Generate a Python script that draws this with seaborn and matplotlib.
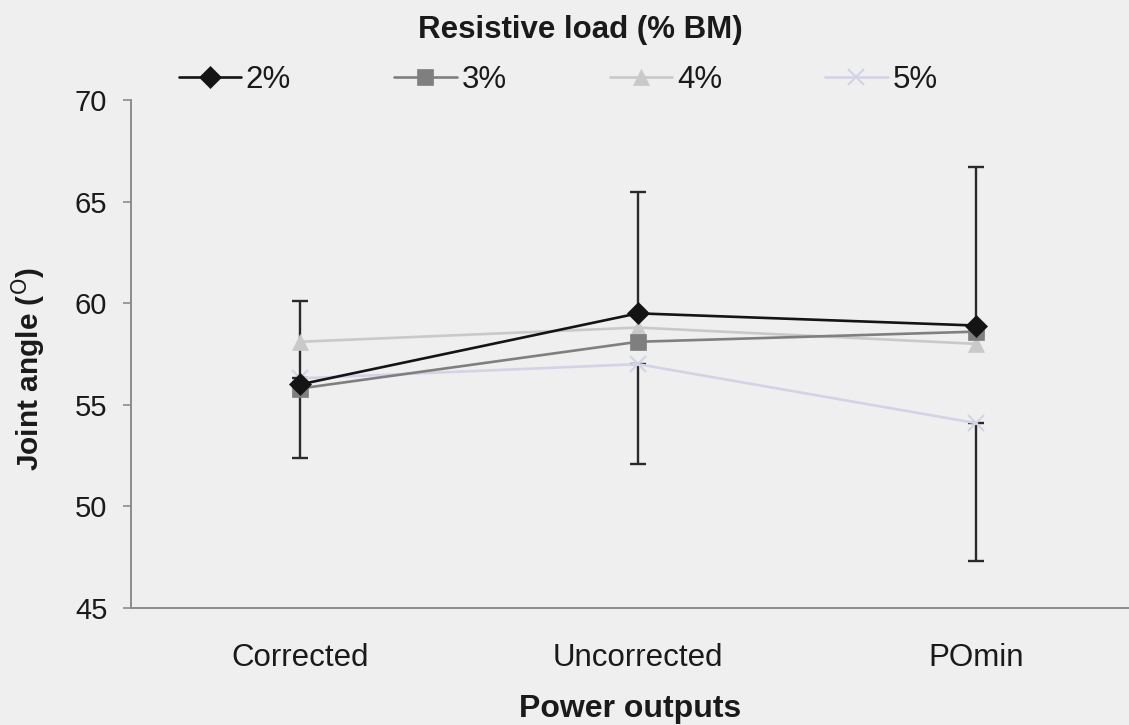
import matplotlib
matplotlib.use("Agg")
import matplotlib.pyplot as plt
from matplotlib.lines import Line2D
import numpy as np
import pandas as pd
import seaborn as sns

# Mean joint angle (degrees) per power-output condition and resistive load
conditions = ["Corrected", "Uncorrected", "POmin"]
loads = ["2%", "3%", "4%", "5%"]
load_2 = [56.0, 59.5, 58.9]
load_3 = [55.8, 58.1, 58.6]
load_4 = [58.1, 58.8, 58.0]
load_5 = [56.3, 57.0, 54.1]
# SD shown upward for the 2% load and downward for the 5% load
sd_up_2 = [4.1, 5.95, 7.8]
sd_down_5 = [3.9, 4.9, 6.8]

series = {"2%": load_2, "3%": load_3, "4%": load_4, "5%": load_5}
df = pd.DataFrame(
    [(c, k, v) for k, vals in series.items() for c, v in zip(conditions, vals)],
    columns=["condition", "load", "angle"],
)

colors = {"2%": "#141414", "3%": "#7f7f7f", "4%": "#c9c9c9", "5%": "#d3d3e6"}
markers = {"2%": "D", "3%": "s", "4%": "^", "5%": "x"}
msizes = {"2%": 11, "3%": 11, "4%": 11, "5%": 11}
bg = "#efefef"
ink = "#1a1a1a"

sns.set_theme(style="white")
plt.rcParams["font.family"] = ["Liberation Sans", "DejaVu Sans"]

fig = plt.figure(figsize=(11.29, 7.25), dpi=100, facecolor=bg)
ax = fig.add_axes([0.116, 0.1614, 0.884, 0.7007])
ax.set_facecolor(bg)

# Lines with markers, one per load (drawn lightest first so the dark series is on top)
for key in ["5%", "4%", "3%", "2%"]:
    sub = df[df["load"] == key]
    sns.lineplot(
        data=sub, x="condition", y="angle", ax=ax, color=colors[key],
        marker=markers[key], markersize=msizes[key], linewidth=1.9,
        markeredgecolor=colors[key], markeredgewidth=1.5 if key == "5%" else 0.5,
        sort=False, legend=False, zorder=3,
    )

pos = np.arange(len(conditions))
ax.errorbar(pos, load_2, yerr=[np.zeros(3), sd_up_2], fmt="none",
            ecolor="#2a2a2a", elinewidth=1.7, capsize=6, capthick=1.7, zorder=2)
ax.errorbar(pos, load_5, yerr=[sd_down_5, np.zeros(3)], fmt="none",
            ecolor="#2a2a2a", elinewidth=1.7, capsize=6, capthick=1.7, zorder=2)

ax.set_xlim(-0.5, 2.453)
ax.set_ylim(45, 70)
ax.set_yticks([45, 50, 55, 60, 65, 70])
ax.set_xticks(pos)
ax.set_xticklabels(conditions)

for s in ["top", "right"]:
    ax.spines[s].set_visible(False)
for s in ["left", "bottom"]:
    ax.spines[s].set_color("#8c8c8c")
    ax.spines[s].set_linewidth(1.4)

ax.tick_params(axis="y", length=6, width=1.2, color="#8c8c8c", pad=11,
               labelsize=21, labelcolor=ink, left=True)
ax.tick_params(axis="x", length=0, pad=25, labelsize=22.5, labelcolor=ink)

ax.set_xlabel("Power outputs", fontsize=23, fontweight="bold", color=ink, labelpad=15)
ax.set_ylabel(r"Joint angle ($^{\mathrm{O}}$)", fontsize=21.5, fontweight="bold",
              color=ink)
ax.yaxis.set_label_coords(-0.083, 0.47)

# Legend title placed on its own above the entries
fig.text(580 / 1129, 1 - 30 / 725, "Resistive load (% BM)", fontsize=22.5,
         fontweight="bold", color=ink, ha="center", va="center")

handles = [
    Line2D([0], [0], color=colors[k], marker=markers[k], markersize=msizes[k],
           markeredgecolor=colors[k], markeredgewidth=1.5 if k == "5%" else 0.5,
           linewidth=1.9)
    for k in loads
]
leg = fig.legend(
    handles, loads, loc="center", bbox_to_anchor=(558 / 1129, 1 - 80 / 725), ncol=4,
    frameon=False, fontsize=22.5, handlelength=2.0, handletextpad=0.15,
    columnspacing=3.3, borderpad=0,
)
for t in leg.get_texts():
    t.set_color(ink)

fig.savefig("out.png", dpi=100, facecolor=bg)
